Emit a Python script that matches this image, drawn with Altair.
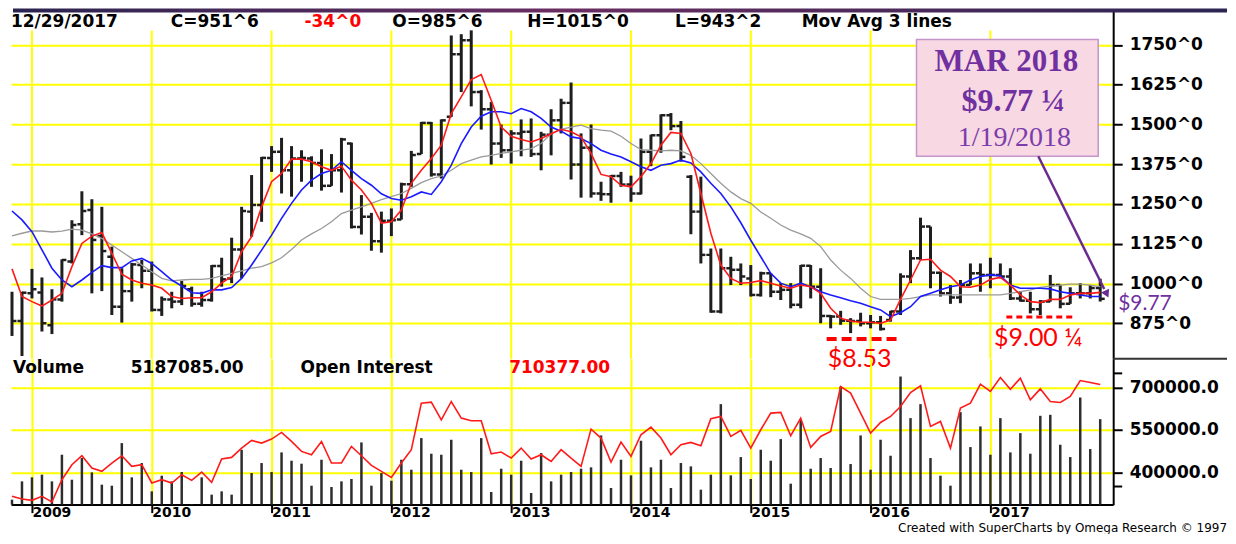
import altair as alt
import pandas as pd

# ---------------- data (monthly bars, Nov 2008 .. Dec 2017) ----------------
month_index = list(range(110))

opens = [924, 882, 969, 972, 869, 950, 1069, 1186, 1231, 1149,
         1084, 927, 976, 1058, 1040, 917, 950, 943, 982, 936,
         948, 1055, 1016, 1107, 1226, 1247, 1395, 1414, 1356, 1393,
         1393, 1379, 1307, 1356, 1440, 1178, 1210, 1133, 1197, 1201,
         1312, 1407, 1505, 1343, 1524, 1721, 1765, 1602, 1548, 1440,
         1419, 1472, 1477, 1407, 1468, 1513, 1568, 1374, 1427, 1283,
         1281, 1338, 1311, 1283, 1414, 1466, 1529, 1495, 1336, 1226,
         1090, 912, 1048, 1043, 1016, 964, 1032, 974, 980, 933,
         1056, 990, 898, 896, 883, 882, 875, 878, 885, 912,
         1022, 1079, 1179, 1034, 969, 956, 995, 1032, 1027, 1027,
         1022, 953, 946, 919, 943, 995, 936, 969, 969, 985.75]

highs = [974, 974, 1046, 1019, 982, 1076, 1199, 1290, 1265, 1241,
         1116, 1048, 1065, 1074, 1069, 959, 974, 1008, 990, 974,
         1058, 1081, 1144, 1241, 1341, 1398, 1432, 1458, 1432, 1419,
         1400, 1422, 1407, 1458, 1443, 1278, 1222, 1226, 1236, 1317,
         1417, 1508, 1508, 1516, 1780, 1784, 1796, 1608, 1571, 1500,
         1482, 1516, 1519, 1477, 1548, 1581, 1632, 1472, 1500, 1320,
         1341, 1351, 1339, 1456, 1468, 1532, 1536, 1511, 1341, 1336,
         1110, 1110, 1084, 1063, 1058, 1037, 1032, 1001, 1001, 1058,
         1058, 1048, 901, 914, 891, 908, 901, 898, 914, 1032,
         1105, 1207, 1179, 1037, 995, 1011, 1063, 1063, 1081, 1063,
         1048, 976, 974, 948, 1027, 995, 988, 1001, 995, 1015]

lows = [835, 772, 953, 849, 841, 943, 1063, 1152, 969, 976,
        901, 877, 943, 985, 912, 898, 922, 932, 927, 927,
        943, 990, 1001, 1016, 1147, 1194, 1351, 1283, 1273, 1320,
        1304, 1292, 1307, 1286, 1173, 1154, 1103, 1097, 1149, 1201,
        1304, 1407, 1336, 1330, 1524, 1602, 1557, 1484, 1374, 1395,
        1377, 1400, 1398, 1356, 1403, 1472, 1327, 1270, 1270, 1260,
        1254, 1304, 1257, 1280, 1369, 1411, 1482, 1383, 1155, 1063,
        908, 906, 995, 995, 959, 959, 957, 948, 922, 922,
        953, 875, 859, 870, 844, 865, 859, 852, 880, 901,
        1001, 1074, 985, 959, 936, 938, 995, 974, 985, 1016,
        948, 943, 906, 901, 943, 922, 936, 953, 953, 943.25]

closes = [882, 971, 982, 875, 950, 1074, 1184, 1228, 1137, 1102,
          927, 976, 1060, 1040, 917, 950, 943, 992, 936, 948,
          1055, 1013, 1107, 1228, 1247, 1395, 1414, 1356, 1393, 1395,
          1379, 1307, 1356, 1453, 1178, 1210, 1133, 1197, 1199, 1312,
          1404, 1505, 1343, 1513, 1721, 1765, 1602, 1548, 1440, 1419,
          1472, 1477, 1407, 1468, 1513, 1568, 1374, 1427, 1283, 1281,
          1338, 1311, 1283, 1414, 1466, 1529, 1495, 1398, 1226, 1090,
          912, 1048, 1043, 1022, 964, 1032, 974, 980, 933, 1056,
          990, 898, 896, 883, 882, 875, 878, 857, 912, 1022,
          1079, 1179, 1034, 969, 956, 995, 1032, 1027, 1027, 1022,
          953, 946, 919, 943, 995, 936, 969, 969, 985.75, 951.75]

ma_red = [1046, 959, 943, 929, 948, 969, 1053, 1126, 1149, 1160,
          1095, 1029, 1011, 1001, 995, 985, 959, 953, 955, 955,
          974, 1001, 1022, 1100, 1147, 1241, 1320, 1346, 1391, 1391,
          1383, 1367, 1356, 1369, 1325, 1294, 1252, 1190, 1194, 1231,
          1315, 1356, 1393, 1435, 1534, 1587, 1641, 1657, 1576, 1492,
          1463, 1453, 1445, 1456, 1471, 1485, 1477, 1461, 1409, 1343,
          1336, 1309, 1304, 1336, 1377, 1435, 1475, 1472, 1409, 1283,
          1158, 1058, 1016, 1001, 1003, 1009, 1001, 992, 985, 995,
          990, 969, 922, 891, 882, 878, 878, 875, 885, 950,
          1011, 1074, 1076, 1042, 1022, 990, 988, 995, 1013, 1019,
          995, 964, 943, 940, 950, 950, 964, 969, 969, 972]

ma_blue = [1228, 1200, 1163, 1106, 1048, 1011, 990, 1011, 1035, 1056,
           1050, 1050, 1071, 1079, 1063, 1037, 1011, 992, 971, 969,
           980, 980, 987, 1016, 1058, 1105, 1152, 1205, 1252, 1294,
           1325, 1346, 1356, 1383, 1356, 1330, 1309, 1282, 1267, 1262,
           1273, 1288, 1280, 1320, 1372, 1440, 1492, 1526, 1540, 1540,
           1534, 1550, 1540, 1519, 1492, 1479, 1461, 1456, 1440, 1419,
           1407, 1398, 1383, 1367, 1356, 1372, 1377, 1388, 1379, 1351,
           1315, 1283, 1241, 1191, 1136, 1084, 1032, 1001, 990, 1001,
           990, 974, 964, 955, 946, 938, 927, 917, 896, 908,
           927, 959, 969, 980, 990, 995, 1011, 1022, 1027, 1024,
           995, 985, 985, 985, 983, 974, 969, 964, 959, 959]

ma_gray = [1150, 1158, 1165, 1165, 1162, 1165, 1171, 1168, 1156, 1142,
           1121, 1100, 1079, 1058, 1037, 1016, 1008, 1011, 1013, 1013,
           1016, 1024, 1032, 1040, 1048, 1053, 1065, 1081, 1107, 1137,
           1156, 1173, 1194, 1220, 1231, 1241, 1252, 1264, 1273, 1283,
           1299, 1317, 1330, 1338, 1356, 1377, 1388, 1398, 1403, 1409,
           1414, 1419, 1424, 1440, 1471, 1485, 1492, 1498, 1487, 1482,
           1479, 1463, 1440, 1421, 1419, 1417, 1419, 1417, 1403, 1377,
           1346, 1315, 1288, 1267, 1252, 1225, 1205, 1184, 1168, 1156,
           1142, 1116, 1074, 1042, 1016, 985, 959, 950, 950, 950,
           953, 959, 964, 964, 964, 964, 964, 964, 964, 964,
           969, 974, 980, 988, 992, 995, 998, 998, 995, 990]

volume = [303500, 368200, 382400, 391800, 368200, 462400, 374100, 450600, 400000, 356500,
          352900, 503500, 382400, 433000, 332900, 388200, 368200, 401200, 288000, 382400,
          321200, 332900, 321200, 480000, 397700, 433000, 401200, 470600, 441200, 430600,
          352900, 444700, 348200, 368200, 376500, 505900, 352900, 397700, 370600, 444700,
          409400, 521200, 465900, 462400, 515300, 409400, 401200, 521200, 330600, 412900,
          391800, 441200, 327100, 468200, 368200, 391800, 401200, 412900, 417700, 530600,
          344700, 444700, 389400, 511800, 417700, 444700, 344700, 433000, 421200, 338800,
          391800, 641200, 389400, 454100, 376500, 480000, 441200, 517700, 360000, 585900,
          412900, 450600, 415300, 703500, 429400, 530600, 409400, 515300, 458800, 738800,
          591800, 641200, 450600, 388200, 352900, 612900, 489400, 562400, 462400, 591800,
          470600, 538800, 465900, 600000, 603500, 497700, 454100, 664700, 482400, 588200]

open_interest = [315300, 305900, 301200, 315300, 295300, 374100, 427100, 458800, 415300, 403500,
                 433000, 458800, 421200, 427100, 362400, 374100, 362400, 391800, 371800, 401200,
                 364700, 447100, 453000, 485900, 513000, 503500, 517700, 541200, 509400, 474100,
                 462400, 509400, 433000, 433000, 491800, 458800, 424700, 403500, 382400, 433000,
                 480000, 644700, 648200, 585900, 650600, 591800, 582400, 582400, 465900, 471800,
                 450600, 485900, 447100, 462400, 438800, 480000, 450600, 421200, 553000, 521200,
                 436500, 507100, 456500, 533000, 560000, 521200, 462400, 497700, 505900, 494100,
                 589400, 597700, 527100, 548300, 485900, 550600, 609400, 611800, 529400, 591800,
                 488300, 527000, 544700, 703500, 680000, 609400, 538800, 576500, 597700, 633000,
                 682400, 705900, 562400, 580000, 485900, 627100, 644700, 711800, 685900, 735300,
                 694100, 733000, 656500, 695300, 650600, 647100, 668200, 724700, 717700, 710377]

year_labels = ["2009", "2010", "2011", "2012", "2013", "2014", "2015", "2016", "2017"]
year_start_index = [2, 14, 26, 38, 50, 62, 74, 86, 98]
price_ticks = [875, 1000, 1125, 1250, 1375, 1500, 1625, 1750]
volume_ticks = [400000, 550000, 700000]
volume_minor_ticks = [350000, 750000]

header_texts = ["12/29/2017", "C=951^6", "-34^0", "O=985^6", "H=1015^0", "L=943^2", "Mov Avg 3 lines"]
volume_header_texts = ["Volume", "5187085.00", "Open Interest", "710377.00"]
box_texts = ["MAR 2018", "$9.77 \u00bc", "1/19/2018"]
price_notes = ["$9.77", "$8.53", "$9.00 \u00bc"]
footer_text = "Created with SuperCharts by Omega Research \u00a9 1997"

# ---------------- tables ----------------
df = pd.DataFrame({"i": month_index, "O": opens, "H": highs, "L": lows, "C": closes,
                   "red": ma_red, "blue": ma_blue, "gray": ma_gray,
                   "vol": volume, "oi": open_interest})
years = pd.DataFrame({"i": year_start_index, "year": year_labels})
minor = pd.DataFrame({"v": volume_minor_ticks})
one = pd.DataFrame({"k": [0]})

W = 1104
H_PRICE = 351
H_VOL = 146
RIGHT = 1218
YELLOW = "#ffff00"
BAR = "#1e1e1e"
FONT = "DejaVu Sans"

x_scale = alt.Scale(domain=[-0.1, 110.3], nice=False, zero=False)
py_scale = alt.Scale(domain=[763, 1865], nice=False, zero=False)
vy_scale = alt.Scale(domain=[286000, 801300], nice=False, zero=False)

axis_style = dict(title=None, grid=True, gridColor=YELLOW, gridWidth=2, gridOpacity=1,
                  domainColor="#000000", domainWidth=2, tickColor="#000000",
                  tickWidth=2, labelFont=FONT, labelFontWeight="bold",
                  labelColor="#000000", labelFlush=False, labelOverlap=False)

price_axis = alt.Axis(orient="right", values=price_ticks, tickSize=9, labelPadding=7,
                      labelFontSize=17, labelExpr="datum.value + '^0'", **axis_style)

vol_axis = alt.Axis(orient="right", values=volume_ticks, tickSize=9, labelPadding=7,
                    labelFontSize=17, labelExpr="datum.value + '.0'", **axis_style)

x_axis = alt.Axis(orient="bottom", values=year_start_index, tickSize=8, labelFontSize=14,
                  labelAlign="left", labelBaseline="alphabetic", labelPadding=4,
                  labelExpr="'\u2009' + (2009 + round((datum.value - 2) / 12))", **axis_style)


def txt(s, x, y, size=17, color="#000000", font=FONT, weight="bold", align="left"):
    return alt.Chart(one).mark_text(text=s, font=font, fontSize=size, fontWeight=weight,
                                    color=color, align=align, baseline="alphabetic").encode(
        x=alt.value(x), y=alt.value(y))


X = alt.X("i:Q", scale=x_scale, axis=None)


def PY(field):
    return alt.Y(field, scale=py_scale, axis=price_axis)


def VY(field):
    return alt.Y(field, scale=vy_scale, axis=vol_axis)


# ---------------- price panel ----------------
vgrid = alt.Chart(years).mark_rule(color=YELLOW, strokeWidth=2).encode(
    x=X, y=alt.value(22), y2=alt.value(H_PRICE))

hl = alt.Chart(df).mark_rule(color=BAR, strokeWidth=3).encode(
    x=X, y=PY("L:Q"), y2="H:Q")

open_tick = alt.Chart(df).transform_calculate(xo="datum.i - 0.45").mark_rule(
    color=BAR, strokeWidth=2.5, clip=True).encode(
    x=alt.X("xo:Q", scale=x_scale, axis=None), x2="i:Q", y=PY("O:Q"))

close_tick = alt.Chart(df).transform_calculate(xc="datum.i + 0.45").mark_rule(
    color=BAR, strokeWidth=2.5).encode(x=X, x2="xc:Q", y=PY("C:Q"))

line_gray = alt.Chart(df).mark_line(color="#9a9a9a", strokeWidth=1.3).encode(x=X, y=PY("gray:Q"))
line_blue = alt.Chart(df).mark_line(color="#1a1aff", strokeWidth=1.6).encode(x=X, y=PY("blue:Q"))
line_red = alt.Chart(df).mark_line(color="#ff1a1a", strokeWidth=1.6).encode(x=X, y=PY("red:Q"))

banner = alt.Chart(one).mark_rect(
    color=alt.Gradient(gradient="linear",
                       stops=[alt.GradientStop(color="#2a2450", offset=0),
                              alt.GradientStop(color="#6a2d62", offset=0.45),
                              alt.GradientStop(color="#2c2552", offset=1)],
                       x1=0, x2=1, y1=0, y2=0)).encode(
    x=alt.value(2), x2=alt.value(RIGHT), y=alt.value(0), y2=alt.value(4))

separator = alt.Chart(one).mark_rule(color="#333333", strokeWidth=2).encode(
    x=alt.value(W), x2=alt.value(RIGHT), y=alt.value(H_PRICE))

box = alt.Chart(one).mark_rect(fill="#f8d8e3", stroke="#c595c9", strokeWidth=1.5).encode(
    x=alt.value(907), x2=alt.value(1089), y=alt.value(31), y2=alt.value(148))

arrow_line = alt.Chart(one).mark_rule(color="#6a2c91", strokeWidth=2.5).encode(
    x=alt.value(1029), y=alt.value(148), x2=alt.value(1095), y2=alt.value(281))
arrow_head = alt.Chart(one).mark_point(shape="triangle", angle=154, size=80, filled=True,
                                       color="#6a2c91", opacity=1).encode(
    x=alt.value(1097), y=alt.value(285))

dash1 = alt.Chart(one).mark_rule(color="#ff0000", strokeWidth=4, strokeDash=[10, 5]).encode(
    x=alt.value(817), x2=alt.value(887), y=alt.value(331))
dash2 = alt.Chart(one).mark_rule(color="#ff0000", strokeWidth=3, strokeDash=[6, 4]).encode(
    x=alt.value(997), x2=alt.value(1065), y=alt.value(309))

header_x = [0, 160, 294, 382, 517, 665, 792]
header_colors = ["#000000", "#000000", "#ff0000", "#000000", "#000000", "#000000", "#000000"]
headers = [txt(t, hx, 19, color=c) for t, hx, c in zip(header_texts, header_x, header_colors)]

purple = "#7030a0"
box_lbls = [
    txt(box_texts[0], 997, 63, size=31, color=purple, font="Liberation Serif", align="center"),
    txt(box_texts[1], 1004, 103, size=32, color=purple, font="Liberation Serif", align="center"),
    txt(box_texts[2], 1005, 138, size=28, color="#7b3dab", font="Liberation Serif",
        weight="normal", align="center"),
]
notes = [
    txt(price_notes[0], 1109, 302.5, size=21, color=purple, font="Lato", weight="normal"),
    txt(price_notes[1], 850, 359, size=25, color="#ff0000", font="Lato", weight="normal",
        align="center"),
    txt(price_notes[2], 1029, 338, size=25, color="#ff0000", font="Lato", weight="normal",
        align="center"),
]

price = alt.layer(vgrid, hl, open_tick, close_tick, line_gray, line_blue, line_red,
                  box, arrow_line, arrow_head, dash1, dash2, separator, banner,
                  *headers, *box_lbls, *notes).properties(width=W, height=H_PRICE)

# ---------------- volume / open interest panel ----------------
XV = alt.X("i:Q", scale=x_scale, axis=x_axis)
vol_bars = alt.Chart(df).mark_rule(color="#2e2e2e", strokeWidth=2.5).encode(
    x=XV, y=VY("vol:Q"), y2=alt.value(H_VOL))
oi_line = alt.Chart(df).mark_line(color="#ff1a1a", strokeWidth=1.6).encode(x=XV, y=VY("oi:Q"))
minor_ticks = alt.Chart(minor).mark_rule(color="#000000", strokeWidth=2).encode(
    x=alt.value(W), x2=alt.value(W + 9), y=VY("v:Q"))

vol_header_x = [2, 120, 290, 499]
vol_header_colors = ["#000000", "#000000", "#000000", "#ff0000"]
vol_headers = [txt(t, hx, 14, color=c) for t, hx, c in
               zip(volume_header_texts, vol_header_x, vol_header_colors)]
footer = txt(footer_text, RIGHT, 173, size=12, weight="normal", align="right")

vol = alt.layer(vol_bars, oi_line, minor_ticks, *vol_headers, footer).properties(
    width=W, height=H_VOL)

chart = alt.vconcat(price, vol, spacing=0, bounds="flush").properties(
    padding=0).configure_view(stroke=None)

chart.save("out.html", embed_options={"renderer": "svg", "actions": False})
